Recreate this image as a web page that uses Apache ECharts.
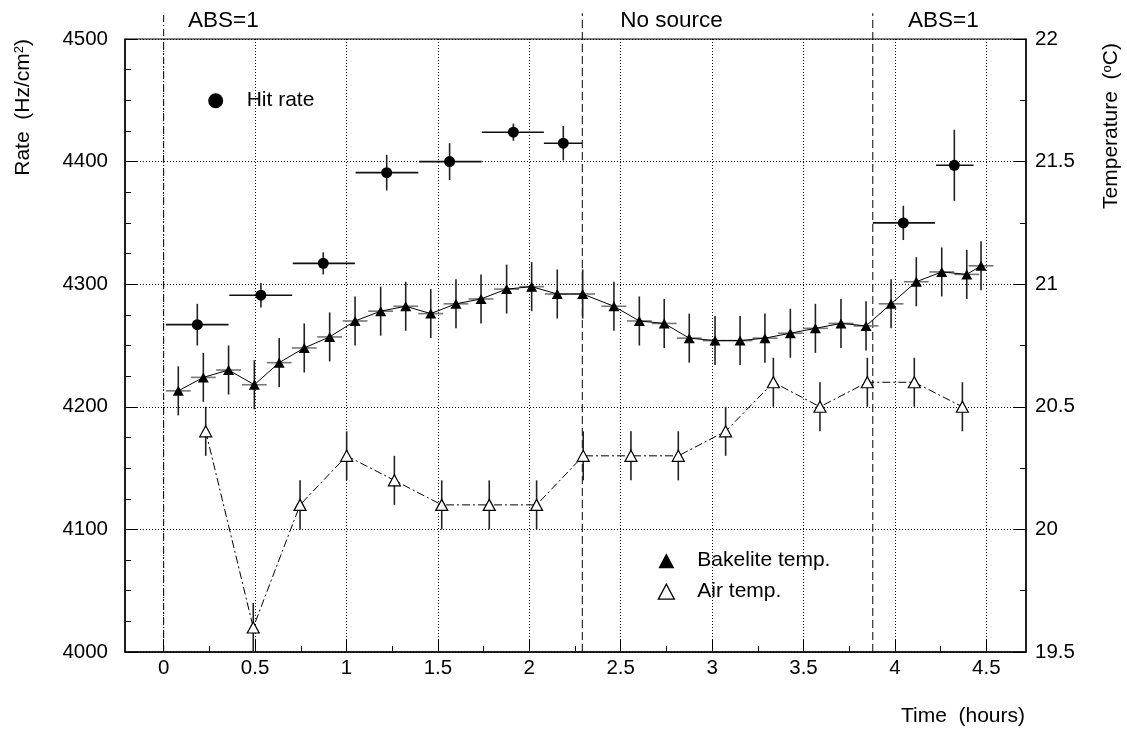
<!DOCTYPE html>
<html>
<head>
<meta charset="utf-8">
<script src="https://cdn.jsdelivr.net/npm/echarts@6/dist/echarts.min.js"></script>
<style>
html, body { margin: 0; padding: 0; background: #fff; }
#chart { width: 1127px; height: 732px; }
</style>
</head>
<body>
<div id="chart"></div>
<script>
// hit rate (Hz/cm2), one point per time bin (hours)
var hitTime = [0.184, 0.532, 0.873, 1.220, 1.564, 1.913, 2.186, 4.046, 4.325];
var hitTimeLow = [0.012, 0.359, 0.706, 1.050, 1.397, 1.740, 2.080, 3.879, 4.225];
var hitTimeHigh = [0.355, 0.703, 1.046, 1.393, 1.739, 2.080, 2.290, 4.219, 4.430];
var hitRate = [4267, 4291, 4317, 4391, 4400, 4424, 4415, 4350, 4397];
var hitRateErr = [17, 10, 9, 14.5, 15, 7, 14, 14, 29];

// bakelite temperature (C)
var bakTime = [0.080, 0.217, 0.355, 0.496, 0.632, 0.769, 0.908, 1.047, 1.187, 1.324, 1.461,
    1.599, 1.736, 1.876, 2.013, 2.153, 2.292, 2.463, 2.602, 2.738, 2.875, 3.016, 3.153,
    3.289, 3.428, 3.565, 3.705, 3.842, 3.979, 4.117, 4.256, 4.393, 4.471];
var bakTemp = [20.565, 20.62, 20.65, 20.59, 20.68, 20.74, 20.785, 20.85, 20.89, 20.91, 20.88,
    20.92, 20.94, 20.98, 20.99, 20.96, 20.96, 20.91, 20.85, 20.84, 20.78, 20.77, 20.77,
    20.78, 20.80, 20.82, 20.84, 20.83, 20.92, 21.01, 21.05, 21.04, 21.075];
var bakTempErr = 0.1;
var bakTimeHalf = 0.068;

// air temperature (C)
var airTime = [0.230, 0.490, 0.746, 1.001, 1.262, 1.521, 1.781, 2.040, 2.295, 2.556, 2.815,
    3.074, 3.335, 3.590, 3.849, 4.106, 4.369];
var airTemp = [20.40, 19.60, 20.10, 20.30, 20.20, 20.10, 20.10, 20.10, 20.30, 20.30, 20.30,
    20.40, 20.60, 20.50, 20.60, 20.60, 20.50];
var airTempErr = 0.1;

// run periods
var periodStart = [0, 2.29, 3.879];
var periodName = ['ABS=1', 'No source', 'ABS=1'];
var periodLabelTime = [0.133, 2.497, 4.072];

var majorX = [0, 0.5, 1, 1.5, 2, 2.5, 3, 3.5, 4, 4.5];
var minorX = [0.25, 0.75, 1.25, 1.75, 2.25, 2.75, 3.25, 3.75, 4.25];

var FONT = '"Liberation Sans", Arial, Helvetica, sans-serif';
var FS = 20.5;   // tick labels
var FT = 21;     // titles, legend

var myChart = echarts.init(document.getElementById('chart'), null, { renderer: 'canvas' });

function pairs(xs, ys) {
    return xs.map(function (x, i) { return [x, ys[i]]; });
}
// [x, y, xlow, xhigh, ylow, yhigh]
function errRows(xs, ys, xl, xh, yl, yh) {
    return xs.map(function (x, i) { return [x, ys[i], xl[i], xh[i], yl[i], yh[i]]; });
}

var hitErr = errRows(hitTime, hitRate, hitTimeLow, hitTimeHigh,
    hitRate.map(function (v, i) { return v - hitRateErr[i]; }),
    hitRate.map(function (v, i) { return v + hitRateErr[i]; }));
var bakErr = errRows(bakTime, bakTemp,
    bakTime.map(function (t) { return t - bakTimeHalf; }),
    bakTime.map(function (t) { return t + bakTimeHalf; }),
    bakTemp.map(function (v) { return v - bakTempErr; }),
    bakTemp.map(function (v) { return v + bakTempErr; }));
var airErr = errRows(airTime, airTemp, airTime, airTime,
    airTemp.map(function (v) { return v - airTempErr; }),
    airTemp.map(function (v) { return v + airTempErr; }));

function errRender(vColor, hColor) {
    return function (params, api) {
        var x = api.value(0), y = api.value(1);
        var lo = api.coord([x, api.value(4)]);
        var hi = api.coord([x, api.value(5)]);
        var l = api.coord([api.value(2), y]);
        var r = api.coord([api.value(3), y]);
        var kids = [{
            type: 'line',
            shape: { x1: lo[0], y1: lo[1], x2: hi[0], y2: hi[1] },
            style: { stroke: vColor, lineWidth: 1.6 }
        }];
        if (r[0] - l[0] > 0.5) {
            kids.push({
                type: 'line',
                shape: { x1: l[0], y1: l[1], x2: r[0], y2: r[1] },
                style: { stroke: hColor, lineWidth: 1.6 }
            });
        }
        return { type: 'group', children: kids };
    };
}

var option = {
    animation: false,
    backgroundColor: '#fff',
    textStyle: { fontFamily: FONT },
    grid: {
        left: 125, top: 39, width: 901, height: 613,
        show: true, borderColor: '#000', borderWidth: 1, backgroundColor: 'transparent'
    },
    legend: [{
        left: 208.2, top: 90.2, padding: 0,
        itemWidth: 15, itemHeight: 15,
        textStyle: { fontSize: FT, color: '#000', fontFamily: FONT, padding: [0, 0, 0, 18.5] },
        selectedMode: false,
        data: [{ name: 'Hit rate', icon: 'circle', itemStyle: { color: '#000', opacity: 1 } }]
    }, {
        left: 657.7, top: 550.2, orient: 'vertical', padding: 0,
        itemWidth: 16, itemHeight: 15, itemGap: 10,
        textStyle: { fontSize: FT, color: '#000', fontFamily: FONT, padding: [0, 0, 0, 18] },
        selectedMode: false,
        data: [
            { name: 'Bakelite temp.', icon: 'triangle', itemStyle: { color: '#000', borderWidth: 0 } },
            { name: 'Air temp.', icon: 'triangle', itemStyle: { color: '#fff', borderColor: '#000', borderWidth: 1.3 } }
        ]
    }],
    xAxis: [{
        type: 'value', position: 'bottom',
        min: -0.2115, max: 4.717,
        axisLine: { onZero: false, lineStyle: { color: '#000', width: 1.5 } },
        axisTick: { inside: true, length: 12, customValues: majorX, lineStyle: { color: '#000' } },
        axisLabel: {
            customValues: majorX, margin: 6, fontSize: FS, color: '#000', fontFamily: FONT,
            formatter: function (v) { return String(v); }
        },
        splitLine: { show: true, lineStyle: { color: '#000', type: [1, 2], width: 1 } }
    }, {
        type: 'value', position: 'bottom',
        min: -0.2115, max: 4.717,
        axisLine: { show: false, onZero: false },
        axisTick: { inside: true, length: 6, customValues: minorX, lineStyle: { color: '#000' } },
        axisLabel: { show: false },
        splitLine: { show: false }
    }],
    yAxis: [{
        type: 'value', position: 'left',
        min: 4000, max: 4500, interval: 100,
        axisLine: { show: true, onZero: false, lineStyle: { color: '#000', width: 1.5 } },
        axisTick: { show: true, inside: true, length: 12, lineStyle: { color: '#000' } },
        minorTick: { show: true, splitNumber: 4, length: 6, lineStyle: { color: '#000' } },
        axisLabel: {
            margin: 17, fontSize: FS, color: '#000', fontFamily: FONT,
            formatter: function (v) { return String(v); }
        },
        splitLine: { show: true, lineStyle: { color: '#000', type: [1, 2], width: 1 } }
    }, {
        type: 'value', position: 'right',
        min: 19.5, max: 22, interval: 0.5,
        axisLine: { show: true, onZero: false, lineStyle: { color: '#000', width: 1.5 } },
        axisTick: { show: true, inside: true, length: 12, lineStyle: { color: '#000' } },
        minorTick: { show: true, splitNumber: 2, length: 6, lineStyle: { color: '#000' } },
        axisLabel: {
            margin: 9, fontSize: FS, color: '#000', fontFamily: FONT,
            formatter: function (v) { return String(v); }
        },
        splitLine: { show: false }
    }],
    series: [
        // period separators and names
        {
            type: 'custom', name: 'periods', clip: false, z: 1, silent: true,
            xAxisIndex: 0, yAxisIndex: 0,
            data: periodStart.map(function (t) { return [t]; }),
            renderItem: function (params, api) {
                var t = api.value(0);
                var b = api.coord([t, 4000]);
                var top = api.coord([t, 4521]);
                return {
                    type: 'line',
                    shape: { x1: b[0], y1: b[1], x2: top[0], y2: top[1] },
                    style: {
                        stroke: '#000', lineWidth: 1,
                        lineDash: params.dataIndex === 0 ? [7, 3, 1, 3] : [8, 4]
                    }
                };
            }
        },
        {
            type: 'custom', name: 'periodNames', clip: false, z: 3, silent: true,
            xAxisIndex: 0, yAxisIndex: 0,
            data: periodLabelTime.map(function (t) { return [t, 4515]; }),
            renderItem: function (params, api) {
                var p = api.coord([api.value(0), api.value(1)]);
                return {
                    type: 'text', x: p[0], y: p[1],
                    style: {
                        text: periodName[params.dataIndex], fill: '#000',
                        fontSize: 22.5, fontFamily: FONT, align: 'left', verticalAlign: 'middle'
                    }
                };
            }
        },
        // error bars
        {
            type: 'custom', name: 'hitErr', z: 1, silent: true,
            xAxisIndex: 0, yAxisIndex: 0,
            data: hitErr, renderItem: errRender('#222', '#111')
        },
        {
            type: 'custom', name: 'bakErr', z: 1, silent: true,
            xAxisIndex: 0, yAxisIndex: 1,
            data: bakErr, renderItem: errRender('#222', '#777')
        },
        {
            type: 'custom', name: 'airErr', z: 1, silent: true,
            xAxisIndex: 0, yAxisIndex: 1,
            data: airErr, renderItem: errRender('#222', '#222')
        },
        {
            type: 'scatter', name: 'Hit rate', z: 4,
            xAxisIndex: 0, yAxisIndex: 0,
            symbol: 'circle', symbolSize: 11,
            itemStyle: { color: '#000', opacity: 1 },
            data: pairs(hitTime, hitRate)
        },
        {
            type: 'line', name: 'Bakelite temp.', z: 3,
            xAxisIndex: 0, yAxisIndex: 1,
            symbol: 'triangle', symbolSize: [11, 10], showAllSymbol: true,
            itemStyle: { color: '#000' },
            lineStyle: { color: '#000', width: 1 },
            data: pairs(bakTime, bakTemp)
        },
        {
            type: 'line', name: 'Air temp.', z: 3,
            xAxisIndex: 0, yAxisIndex: 1,
            symbol: 'triangle', symbolSize: [12, 11], showAllSymbol: true,
            itemStyle: { color: '#fff', borderColor: '#000', borderWidth: 1.2 },
            lineStyle: { color: '#000', width: 1, type: [8, 3, 2, 3] },
            data: pairs(airTime, airTemp)
        }
    ],
    graphic: [
        {
            type: 'text', x: 23, y: 39, rotation: Math.PI / 2,
            style: {
                text: 'Rate  (Hz/cm{s|2})', fill: '#000', fontSize: FT, fontFamily: FONT,
                align: 'right', verticalAlign: 'middle',
                rich: { s: { fontSize: 13, fontFamily: FONT, fill: '#000', verticalAlign: 'top' } }
            }
        },
        {
            type: 'text', x: 1111, y: 43, rotation: Math.PI / 2,
            style: {
                text: 'Temperature  ({s|o}C)', fill: '#000', fontSize: FT, fontFamily: FONT,
                align: 'right', verticalAlign: 'middle',
                rich: { s: { fontSize: 13, fontFamily: FONT, fill: '#000', verticalAlign: 'top' } }
            }
        },
        {
            type: 'text', x: 1025, y: 716,
            style: {
                text: 'Time  (hours)', fill: '#000', fontSize: FT, fontFamily: FONT,
                align: 'right', verticalAlign: 'middle'
            }
        }
    ]
};

myChart.setOption(option);
</script>
</body>
</html>
